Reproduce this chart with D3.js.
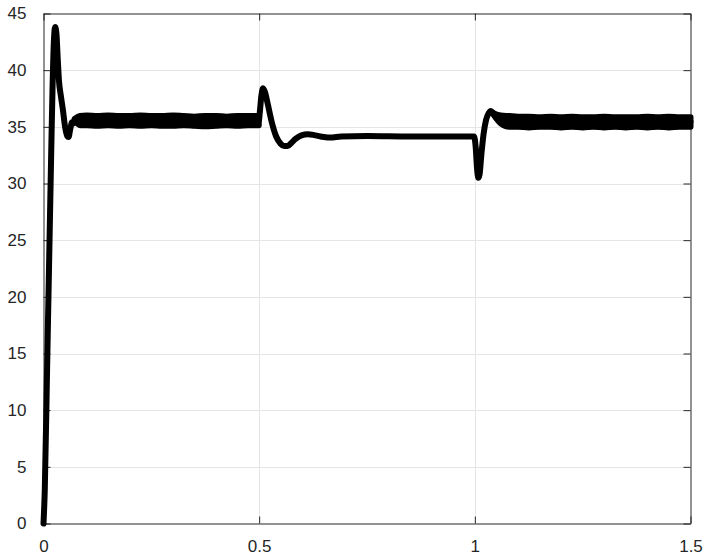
<!DOCTYPE html>
<html>
<head>
<meta charset="utf-8">
<script src="https://cdn.jsdelivr.net/npm/d3@7"></script>
<style>
  html, body { margin: 0; padding: 0; background: #fff; }
  svg { display: block; }
  .tick text { font-family: "Liberation Sans", Arial, Helvetica, sans-serif; font-size: 17px; fill: #262626; }
</style>
</head>
<body>
<svg id="chart" width="704" height="555"></svg>
<script>
// Axis ticks
const xTicks = [0, 0.5, 1, 1.5];
const xTickLabels = ["0", "0.5", "1", "1.5"];
const yTicks = [0, 5, 10, 15, 20, 25, 30, 35, 40, 45];

// Main trace: time (s) and value
const traceT = [
  0, 0.003, 0.008, 0.013, 0.018, 0.021, 0.024, 0.027, 0.030, 0.033, 0.036, 0.040,
  0.045, 0.050, 0.055, 0.058, 0.062, 0.066, 0.070, 0.075, 0.085, 0.2, 0.3, 0.4, 0.499,
  0.502, 0.505, 0.509, 0.514, 0.520, 0.530, 0.540, 0.550, 0.558, 0.566, 0.575, 0.585,
  0.598, 0.613, 0.630, 0.650, 0.665, 0.690, 0.750, 0.850, 0.998,
  1.002, 1.005, 1.008, 1.011, 1.015, 1.020, 1.026, 1.032, 1.037, 1.043, 1.050, 1.060,
  1.080, 1.2, 1.3, 1.4, 1.5
];
const traceV = [
  0, 3, 13, 23, 33, 38.5, 42.5, 43.8, 43.2, 41, 39, 37.8,
  36.5, 35, 34.2, 34.1, 34.8, 35.4, 35.3, 35.7, 35.6, 35.55, 35.5, 35.55, 35.5,
  36.5, 37.7, 38.4, 38.0, 37.0, 35.3, 34.1, 33.5, 33.3, 33.3, 33.6, 33.95,
  34.25, 34.35, 34.25, 34.1, 34.05, 34.15, 34.2, 34.15, 34.15,
  33.2, 31.4, 30.5, 30.8, 32.5, 34.3, 35.6, 36.2, 36.4, 36.2, 35.8, 35.6,
  35.5, 35.45, 35.45, 35.4, 35.45
];

// Ripple envelope during the two steady stretches
const band1T  = [0.072, 0.085, 0.1, 0.125, 0.15, 0.175, 0.2, 0.225, 0.25, 0.275, 0.3, 0.325, 0.35, 0.375, 0.4, 0.425, 0.45, 0.475, 0.499];
const band1Hi = [35.7, 35.95, 36.0, 35.95, 36.0, 35.95, 35.95, 36.0, 35.95, 35.95, 36.0, 35.95, 35.9, 35.95, 35.95, 35.9, 35.95, 35.95, 35.95];
const band1Lo = [35.6, 35.15, 35.15, 35.1, 35.15, 35.1, 35.15, 35.1, 35.15, 35.1, 35.1, 35.15, 35.1, 35.05, 35.1, 35.15, 35.1, 35.15, 35.15];
const band2T  = [1.043, 1.06, 1.08, 1.1, 1.125, 1.15, 1.175, 1.2, 1.225, 1.25, 1.275, 1.3, 1.325, 1.35, 1.375, 1.4, 1.425, 1.45, 1.475, 1.5];
const band2Hi = [36.2, 36.0, 35.95, 35.9, 35.9, 35.85, 35.9, 35.85, 35.9, 35.85, 35.85, 35.9, 35.85, 35.85, 35.85, 35.9, 35.85, 35.9, 35.85, 35.85];
const band2Lo = [36.1, 35.3, 35.0, 35.0, 34.95, 35.0, 35.0, 34.95, 35.0, 34.95, 35.0, 34.95, 35.0, 34.95, 35.0, 34.95, 35.0, 34.95, 35.0, 35.0];

const svg = d3.select("#chart");
const plotLeft = 43.5, plotRight = 690.5, plotTop = 13.5, plotBottom = 523.5;

const x = d3.scaleLinear().domain([0, 1.5]).range([plotLeft, plotRight]);
const y = d3.scaleLinear().domain([0, 45]).range([plotBottom, plotTop]);

const axisColor = "#262626";
const gridColor = "#e5e5e5";

// Grid lines
const grid = svg.append("g");
grid.selectAll("line.gx").data(xTicks.slice(1, -1)).join("line")
  .attr("x1", d => Math.round(x(d)) + 0.5).attr("x2", d => Math.round(x(d)) + 0.5)
  .attr("y1", plotTop).attr("y2", plotBottom)
  .attr("stroke", gridColor).attr("stroke-width", 1);
grid.selectAll("line.gy").data(yTicks.slice(1, -1)).join("line")
  .attr("y1", d => Math.round(y(d)) + 0.5).attr("y2", d => Math.round(y(d)) + 0.5)
  .attr("x1", plotLeft).attr("x2", plotRight)
  .attr("stroke", gridColor).attr("stroke-width", 1);

// Axes (ticks point inward, box around the plot)
const tickLen = 7;
const xAxis = d3.axisBottom(x).tickValues(xTicks)
  .tickFormat((d, i) => xTickLabels[i]).tickSizeInner(-tickLen).tickSizeOuter(0).tickPadding(16);
const yAxis = d3.axisLeft(y).tickValues(yTicks)
  .tickFormat(d3.format("d")).tickSizeInner(-tickLen).tickSizeOuter(0).tickPadding(17);
const xTop = d3.axisTop(x).tickValues(xTicks).tickFormat("").tickSizeInner(-tickLen).tickSizeOuter(0);
const yRight = d3.axisRight(y).tickValues(yTicks).tickFormat("").tickSizeInner(-tickLen).tickSizeOuter(0);

function styleAxis(g) {
  g.select(".domain").attr("stroke", axisColor);
  g.selectAll(".tick line").attr("stroke", axisColor);
}
svg.append("g").attr("transform", `translate(0,${plotBottom})`).call(xAxis).call(styleAxis);
svg.append("g").attr("transform", `translate(${plotLeft},0)`).call(yAxis).call(styleAxis);
svg.append("g").attr("transform", `translate(0,${plotTop})`).call(xTop).call(styleAxis);
svg.append("g").attr("transform", `translate(${plotRight},0)`).call(yRight).call(styleAxis);

// Ripple bands
const band = d3.area()
  .x(d => x(d.t)).y0(d => y(d.lo)).y1(d => y(d.hi))
  .curve(d3.curveMonotoneX);
const b1 = band1T.map((t, i) => ({ t, hi: band1Hi[i], lo: band1Lo[i] }));
const b2 = band2T.map((t, i) => ({ t, hi: band2Hi[i], lo: band2Lo[i] }));
svg.append("g").selectAll("path").data([b1, b2]).join("path")
  .attr("d", band)
  .attr("fill", "#000").attr("stroke", "#000")
  .attr("stroke-width", 6).attr("stroke-linejoin", "round");

// Main trace
const line = d3.line().x(d => x(d.t)).y(d => y(d.v)).curve(d3.curveMonotoneX);
const pts = traceT.map((t, i) => ({ t, v: traceV[i] }));
svg.append("path").datum(pts)
  .attr("d", line)
  .attr("fill", "none").attr("stroke", "#000")
  .attr("stroke-width", 6).attr("stroke-linejoin", "round").attr("stroke-linecap", "round");
</script>
</body>
</html>
